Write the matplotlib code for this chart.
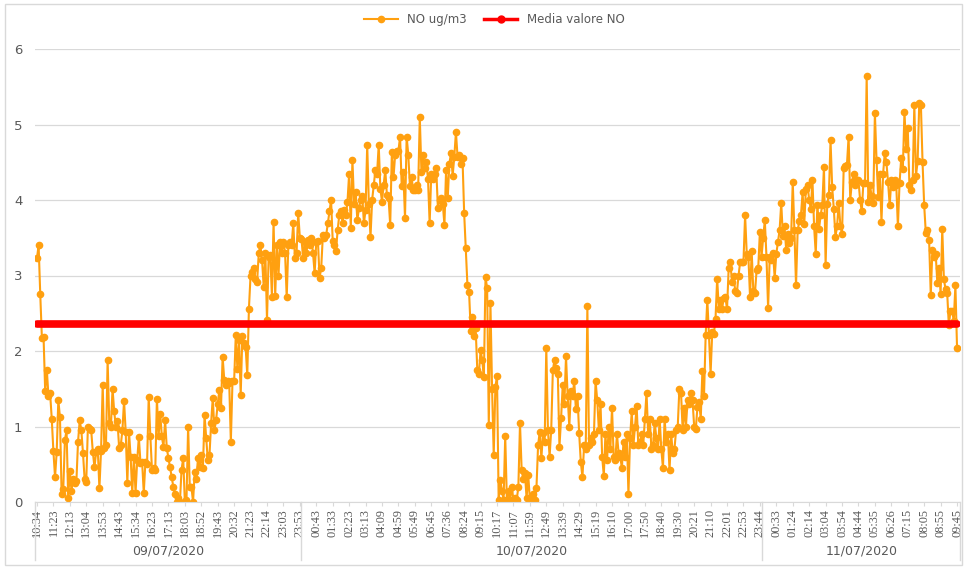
import matplotlib.pyplot as plt
from matplotlib.patches import Rectangle
from matplotlib.lines import Line2D
import numpy as np

# etichette orarie (una ogni 10 campioni)
orari = [
    "10:34", "11:23", "12:13", "13:04", "13:53", "14:43", "15:34", "16:23", "17:13", "18:03",
    "18:52", "19:43", "20:32", "21:23", "22:14", "23:03", "23:53",
    "00:43", "01:33", "02:23", "03:13", "04:09", "04:59", "05:49", "06:45", "07:36", "08:24",
    "09:15", "10:17", "11:07", "11:59", "12:49", "13:39", "14:29", "15:19", "16:10", "17:00",
    "17:50", "18:40", "19:30", "20:21", "21:10", "22:01", "22:53", "23:44",
    "00:33", "01:24", "02:14", "03:04", "03:54", "04:44", "05:35", "06:26", "07:15", "08:05",
    "08:55", "09:45",
]
giorni = ["09/07/2020", "10/07/2020", "11/07/2020"]

no_ugm3 = [
    3.23, 3.40, 2.75, 2.17, 2.19, 1.47, 1.75, 1.40, 1.44, 1.10,
    0.67, 0.33, 0.66, 1.35, 1.12, 0.10, 0.17, 0.82, 0.95, 0.05,
    0.41, 0.15, 0.30, 0.25, 0.28, 0.80, 1.08, 0.95, 0.65, 0.30,
    0.27, 1.00, 0.97, 0.95, 0.66, 0.46, 0.66, 0.70, 0.18, 0.68,
    1.55, 0.72, 0.75, 1.88, 1.05, 1.00, 1.50, 1.20, 1.00, 1.07,
    0.72, 0.75, 0.95, 1.34, 0.93, 0.25, 0.93, 0.60, 0.12, 0.60,
    0.12, 0.55, 0.86, 0.52, 0.53, 0.12, 0.53, 0.50, 1.39, 0.87,
    0.43, 0.45, 0.43, 1.37, 0.87, 1.17, 0.87, 0.73, 1.08, 0.72,
    0.58, 0.46, 0.33, 0.20, 0.10, 0.00, 0.05, 0.00, 0.43, 0.58,
    0.00, 0.02, 1.00, 0.20, 0.20, 0.00, 0.40, 0.30, 0.58, 0.47,
    0.62, 0.45, 1.15, 0.85, 0.55, 0.62, 1.05, 1.38, 0.95, 1.08,
    1.30, 1.48, 1.25, 1.92, 1.62, 1.55, 1.60, 1.58, 0.80, 1.60,
    1.60, 2.21, 1.76, 2.15, 1.42, 2.20, 2.10, 2.05, 1.68, 2.56,
    3.00, 3.05, 3.10, 2.95, 2.92, 3.30, 3.40, 3.20, 2.85, 3.30,
    2.41, 3.25, 3.27, 2.72, 3.71, 2.73, 3.40, 3.00, 3.45, 3.30,
    3.45, 3.30, 2.71, 3.40, 3.45, 3.40, 3.69, 3.23, 3.30, 3.83,
    3.50, 3.48, 3.23, 3.45, 3.30, 3.47, 3.40, 3.50, 3.30, 3.03,
    3.45, 3.46, 2.97, 3.10, 3.53, 3.50, 3.53, 3.69, 3.85, 4.00,
    3.46, 3.41, 3.33, 3.60, 3.80, 3.85, 3.70, 3.87, 3.80, 3.98,
    4.35, 3.63, 4.53, 3.95, 4.10, 3.73, 3.90, 4.00, 4.05, 3.69,
    3.87, 4.73, 3.95, 3.51, 4.00, 4.20, 4.40, 4.35, 4.73, 4.15,
    3.98, 4.20, 4.40, 4.06, 4.02, 3.67, 4.64, 4.30, 4.60, 4.65,
    4.65, 4.84, 4.18, 4.37, 3.76, 4.84, 4.60, 4.18, 4.30, 4.13,
    4.13, 4.20, 4.13, 5.10, 4.37, 4.60, 4.42, 4.50, 4.28, 3.69,
    4.35, 4.28, 4.35, 4.42, 3.90, 4.00, 4.02, 3.95, 3.67, 4.40,
    4.02, 4.48, 4.62, 4.32, 4.57, 4.90, 4.57, 4.60, 4.48, 4.55,
    3.83, 3.36, 2.87, 2.78, 2.27, 2.45, 2.20, 2.30, 1.75, 1.70,
    2.01, 1.88, 1.66, 2.98, 2.83, 1.02, 2.63, 1.50, 0.62, 1.52,
    1.67, 0.03, 0.29, 0.15, 0.03, 0.87, 0.03, 0.15, 0.03, 0.20,
    0.03, 0.05, 0.03, 0.20, 1.04, 0.42, 0.30, 0.38, 0.05, 0.36,
    0.03, 0.07, 0.10, 0.03, 0.18, 0.75, 0.93, 0.58, 0.91, 0.80,
    2.04, 0.95, 0.60, 0.96, 1.75, 1.88, 1.78, 1.70, 0.73, 1.11,
    1.55, 1.30, 1.93, 1.40, 1.00, 1.47, 1.40, 1.60, 1.23, 1.40,
    0.91, 0.53, 0.33, 0.75, 0.70, 2.59, 0.75, 0.85, 0.80, 0.90,
    1.60, 1.35, 0.95, 1.30, 0.60, 0.35, 0.90, 0.55, 1.00, 0.70,
    1.25, 0.60, 0.55, 0.90, 0.65, 0.60, 0.45, 0.80, 0.60, 0.90,
    0.10, 0.85, 1.20, 0.75, 1.00, 1.27, 0.75, 0.80, 0.90, 0.75,
    1.10, 1.45, 0.90, 1.10, 0.70, 0.75, 1.05, 0.85, 0.70, 1.10,
    0.70, 0.45, 1.10, 0.80, 0.90, 0.42, 0.90, 0.65, 0.70, 0.95,
    1.00, 1.50, 1.45, 0.95, 1.25, 1.00, 1.35, 1.30, 1.44, 1.35,
    1.00, 0.97, 1.26, 1.33, 1.10, 1.73, 1.41, 2.21, 2.68, 2.21,
    1.70, 2.25, 2.23, 2.43, 2.96, 2.56, 2.68, 2.56, 2.70, 2.72,
    2.55, 3.10, 3.18, 2.92, 3.00, 2.79, 2.77, 3.00, 3.18, 3.18,
    3.18, 3.80, 3.29, 3.25, 2.72, 3.32, 2.80, 2.77, 3.07, 3.10,
    3.58, 3.25, 3.50, 3.73, 3.25, 2.57, 3.25, 3.20, 3.30, 2.97,
    3.29, 3.45, 3.60, 3.96, 3.52, 3.65, 3.34, 3.55, 3.43, 3.50,
    4.24, 3.60, 2.87, 3.60, 3.72, 3.80, 4.10, 3.68, 4.15, 4.20,
    4.00, 3.88, 4.26, 3.65, 3.29, 3.94, 3.62, 3.80, 3.94, 4.44,
    3.14, 3.95, 4.07, 4.79, 4.17, 3.88, 3.51, 3.66, 3.96, 3.66,
    3.55, 4.42, 4.45, 4.47, 4.84, 4.00, 4.24, 4.34, 4.20, 4.26,
    4.26, 4.00, 3.85, 4.23, 4.23, 5.64, 3.98, 4.20, 4.05, 3.96,
    5.15, 4.53, 4.04, 4.34, 3.71, 4.35, 4.62, 4.50, 4.24, 3.93,
    4.26, 4.17, 4.26, 4.20, 3.65, 4.22, 4.55, 4.41, 5.17, 4.68,
    4.95, 4.20, 4.13, 4.27, 5.26, 4.32, 4.51, 5.28, 5.26, 4.50,
    3.93, 3.56, 3.60, 3.47, 2.74, 3.34, 3.25, 3.29, 2.90, 3.10,
    2.76, 3.62, 2.95, 2.82, 2.77, 2.34, 2.53, 2.53, 2.40, 2.87,
    2.04,
]
media_no = 2.36

grigio = "#595959"
arancio = "#FFA010"
fig = plt.figure(figsize=(9.64, 5.67), dpi=100)
ax = fig.add_axes([35 / 964, 65 / 567, 925 / 964, 453 / 567])

x = np.arange(len(no_ugm3))
ax.plot(x, no_ugm3, color=arancio, lw=1.5, marker="o", ms=4.5)
ax.plot(x, [media_no] * len(x), color="#FF0000", lw=5.5, solid_capstyle="round")

ax.set_xlim(-1.2, 561.8)
ax.set_ylim(0, 6)
ax.set_yticks(range(7))
ax.grid(axis="y", color="#d9d9d9", lw=0.9)
ax.set_axisbelow(True)
for s in ["top", "right", "left"]:
    ax.spines[s].set_visible(False)
ax.spines["bottom"].set_color("#d9d9d9")

ax.set_xticks(x[::10])
ax.set_xticklabels(orari, rotation=90, fontfamily="Liberation Serif", fontsize=8.8, color=grigio)
ax.tick_params(axis="x", length=3, color="#d9d9d9", pad=2)
ax.tick_params(axis="y", length=0, labelsize=9.5, labelcolor=grigio, pad=9)

# separatori dei giorni e date
sep = [-1.2, 160.5, 441.5, 561.8]
for s in sep:
    ax.plot([s, s], [0, -0.77], color="#d9d9d9", lw=1, clip_on=False)
for i, g in enumerate(giorni):
    ax.text((sep[i] + sep[i + 1]) / 2, -0.65, g, ha="center", va="center",
            fontsize=9, color=grigio)

handles = [
    Line2D([], [], color=arancio, lw=1.5, marker="o", ms=4.5, label="NO ug/m3"),
    Line2D([], [], color="#FF0000", lw=2.5, marker="o", ms=5, label="Media valore NO"),
]
fig.legend(handles=handles, loc="center", bbox_to_anchor=(0.513, 0.965), ncol=2,
           frameon=False, fontsize=8.5, labelcolor=grigio, handlelength=2.8,
           columnspacing=1.5)

fig.add_artist(Rectangle((5 / 964, 2 / 567), 957 / 964, 561 / 567, transform=fig.transFigure,
                         fill=False, edgecolor="#d9d9d9", lw=1))

fig.savefig("out.png", dpi=100)
